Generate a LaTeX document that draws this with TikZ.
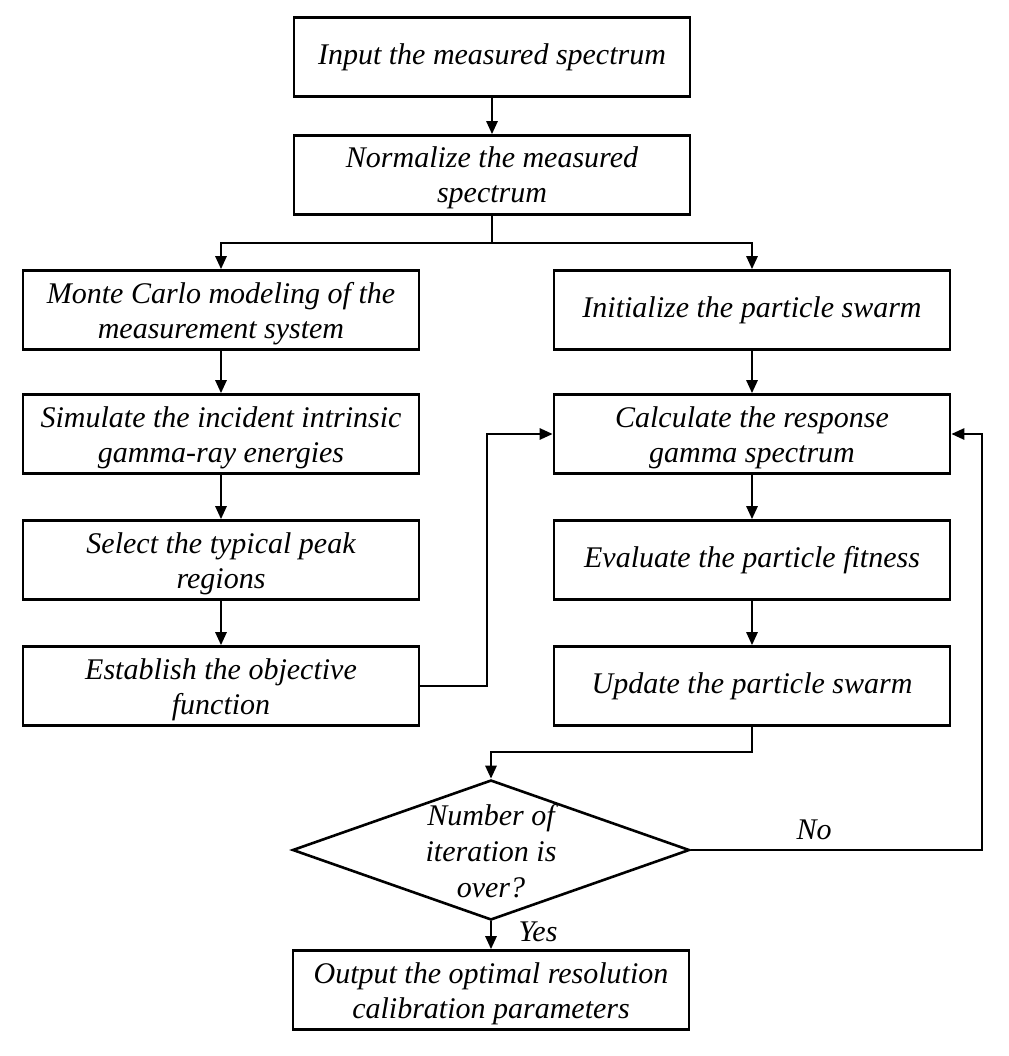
\documentclass[tikz,border=0pt]{standalone}
\usepackage{fontspec}
\setmainfont{Liberation Serif}
\usetikzlibrary{shapes.geometric,arrows.meta}
\begin{document}
\begin{tikzpicture}[x=1pt,y=-1pt,
  every node/.style={font=\fontsize{30}{35}\selectfont\itshape},
  stepbox/.style={draw,line width=2.6pt,rectangle,minimum width=396pt,minimum height=79pt,inner sep=0pt,align=center},
  twoline/.style={text height=63pt,text depth=7pt},
  decbox/.style={draw,line width=2.6pt,diamond,minimum width=397pt,minimum height=140pt,inner sep=0pt},
  conn/.style={line width=2.6pt},
  arr/.style={conn,-{Triangle[length=13pt,width=11pt]}}]
\useasboundingbox (0,0) rectangle (1008,1056);
\node[stepbox] (b1) at (492,57) {Input the measured spectrum};
\node[stepbox,twoline] (b2) at (492,175) {Normalize the measured\\spectrum};
\node[stepbox,twoline] (l1) at (221,310) {Monte Carlo modeling of the\\measurement system};
\node[stepbox,twoline] (l2) at (221,434) {Simulate the incident intrinsic\\gamma-ray energies};
\node[stepbox,twoline] (l3) at (221,560) {Select the typical peak\\regions};
\node[stepbox,twoline] (l4) at (221,686) {Establish the objective\\function};
\node[stepbox] (r1) at (752,310) {Initialize the particle swarm};
\node[stepbox,twoline] (r2) at (752,434) {Calculate the response\\gamma spectrum};
\node[stepbox] (r3) at (752,560) {Evaluate the particle fitness};
\node[stepbox] (r4) at (752,686) {Update the particle swarm};
\node[decbox] (dec) at (491,850) {};
\node[align=center,inner sep=0pt,font=\fontsize{30}{36}\selectfont\itshape] (dectext) at (491,851) {Number of\\iteration is\\over?};
\node[stepbox,twoline] (out) at (491,990) {Output the optimal resolution\\calibration parameters};
\node (no) at (814,830) {No};
\node (yes) at (538,932) {Yes};
\coordinate (split) at (492,243);
\coordinate (j1) at (487,686);
\coordinate (j2) at (752,752);
\coordinate (j3) at (982,850);
\draw[arr] (b1) -- (b2);
\draw[conn] (b2.south) -- (split);
\draw[arr] (split) -| (l1.north);
\draw[arr] (split) -| (r1.north);
\draw[arr] (l1) -- (l2);
\draw[arr] (l2) -- (l3);
\draw[arr] (l3) -- (l4);
\draw[arr] (r1) -- (r2);
\draw[arr] (r2) -- (r3);
\draw[arr] (r3) -- (r4);
\draw[arr] (l4.east) -- (j1) |- (r2.west);
\draw[arr] (r4.south) -- (j2) -| (dec.north);
\draw[arr] (dec.east) -- (j3) |- (r2.east);
\draw[arr] (dec.south) -- (out.north);
\end{tikzpicture}
\end{document}
